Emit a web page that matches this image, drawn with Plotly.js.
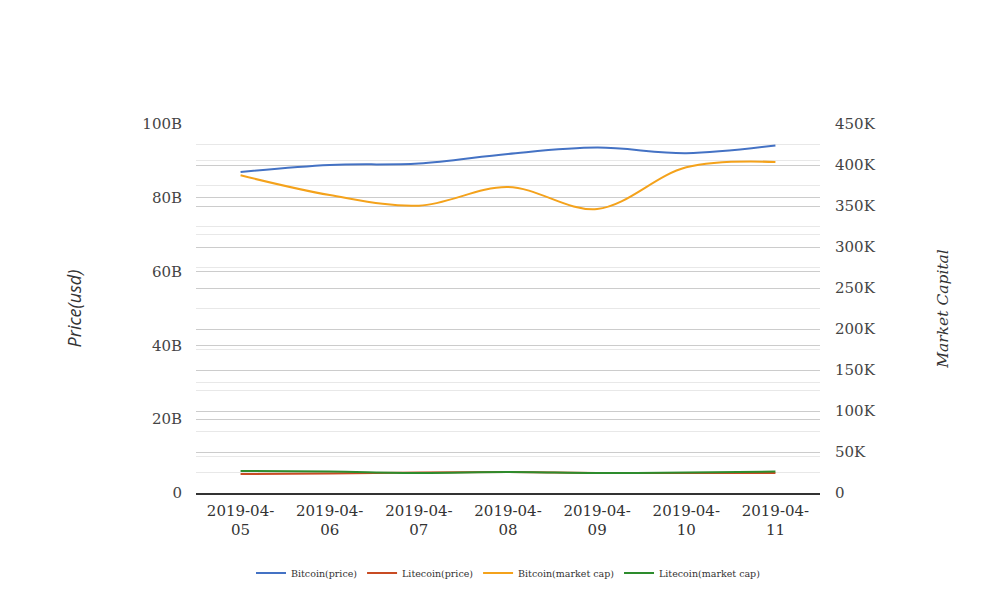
<!DOCTYPE html>
<html>
<head>
<meta charset="utf-8">
<script src="https://cdn.plot.ly/plotly-3.0.1.min.js"></script>
<style>html,body{margin:0;padding:0;background:#fff;}#chart{width:1008px;height:616px;}</style>
</head>
<body>
<div id="chart"></div>
<script>
var categories = ['2019-04-05','2019-04-06','2019-04-07','2019-04-08','2019-04-09','2019-04-10','2019-04-11'];
var categoryLabels = ['2019-04-<br>05','2019-04-<br>06','2019-04-<br>07','2019-04-<br>08','2019-04-<br>09','2019-04-<br>10','2019-04-<br>11'];
var bitcoinPrice = [87.0e9, 88.9e9, 89.3e9, 91.9e9, 93.6e9, 92.1e9, 94.2e9];
var litecoinPrice = [5.15e9, 5.3e9, 5.55e9, 5.7e9, 5.42e9, 5.42e9, 5.42e9];
var bitcoinMarketCap = [387400, 363400, 350400, 373200, 346300, 397200, 403700];
var litecoinMarketCap = [26800, 26200, 24400, 25600, 24400, 25000, 26200];
var leftTickVals = [0, 20e9, 40e9, 60e9, 80e9, 100e9];
var leftTickText = ['0', '20B', '40B', '60B', '80B', '100B'];
var rightTickVals = [0, 50000, 100000, 150000, 200000, 250000, 300000, 350000, 400000, 450000];
var rightTickText = ['0', '50K', '100K', '150K', '200K', '250K', '300K', '350K', '400K', '450K'];

var serif = 'DejaVu Serif';
function line(name, y, axis, color) {
  return {
    type: 'scatter', mode: 'lines', name: name, x: categories, y: y, yaxis: axis,
    line: {color: color, width: 2, shape: 'spline', smoothing: 1},
    hoverinfo: 'x+y'
  };
}
var data = [
  line('Bitcoin(price)', bitcoinPrice, 'y', '#4472c4'),
  line('Litecoin(price)', litecoinPrice, 'y', '#c84b23'),
  line('Bitcoin(market cap)', bitcoinMarketCap, 'y2', '#f4a21b'),
  line('Litecoin(market cap)', litecoinMarketCap, 'y2', '#2d8c2d')
];
var layout = {
  width: 1008, height: 616,
  margin: {l: 196, r: 188, t: 124, b: 123},
  paper_bgcolor: '#fff', plot_bgcolor: '#fff',
  font: {family: serif, size: 15, color: '#444'},
  showlegend: true,
  legend: {orientation: 'h', x: 0.5, xanchor: 'center', y: -0.217, yanchor: 'middle',
           font: {family: serif, size: 9.5, color: '#333'}, itemwidth: 30, tracegroupgap: 0},
  xaxis: {
    type: 'category', range: [-0.5, 6.5], tickvals: categories, ticktext: categoryLabels,
    showgrid: false, showline: true, linecolor: '#333', linewidth: 1.5, ticks: '',
    ticklabelstandoff: 3,
    tickfont: {family: serif, size: 15, color: '#333'}, zeroline: false, fixedrange: true
  },
  yaxis: {
    range: [0, 100e9], tickvals: leftTickVals, ticktext: leftTickText,
    showgrid: true, gridcolor: '#cccccc', gridwidth: 1, zeroline: false, ticks: '',
    ticklabelstandoff: 13,
    minor: {dtick: 10e9, showgrid: true, gridcolor: '#e8e8e8', gridwidth: 1},
    tickfont: {family: serif, size: 15, color: '#444'},
    title: {text: 'Price(usd)', standoff: 56, font: {family: 'Open Sans', size: 18, style: 'italic', color: '#333'}}
  },
  yaxis2: {
    overlaying: 'y', side: 'right', range: [0, 450000], tickvals: rightTickVals, ticktext: rightTickText,
    showgrid: true, gridcolor: '#cccccc', gridwidth: 1, zeroline: false, ticks: '',
    ticklabelstandoff: 14,
    minor: {dtick: 25000, showgrid: true, gridcolor: '#e8e8e8', gridwidth: 1},
    tickfont: {family: serif, size: 15, color: '#444'},
    title: {text: 'Market Capital', standoff: 62, font: {family: serif, size: 15.5, style: 'italic', color: '#333'}}
  }
};
Plotly.newPlot('chart', data, layout, {displayModeBar: false});
</script>
</body>
</html>
